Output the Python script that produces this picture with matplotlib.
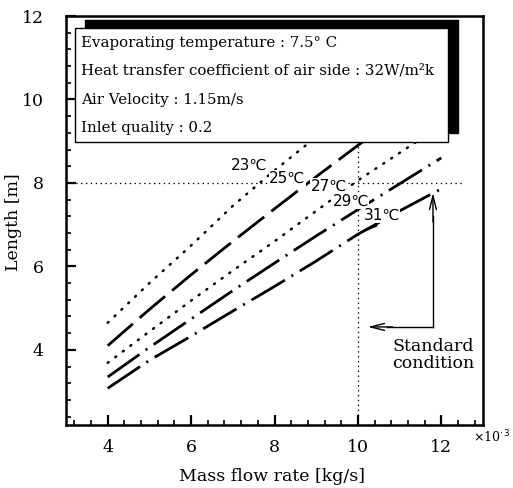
import matplotlib
matplotlib.use("Agg")
import matplotlib.pyplot as plt
from matplotlib.patches import Rectangle
from matplotlib.ticker import MultipleLocator

# --- DATA ---
mass_flow = [4, 5, 6, 7, 8, 9, 10, 11, 12]          # x 10^-3 kg/s
len_23 = [4.65, 5.60, 6.50, 7.45, 8.30, 9.10, 9.90, 10.65, 11.40]
len_25 = [4.10, 4.97, 5.80, 6.60, 7.38, 8.15, 8.90, 9.63, 10.35]
len_27 = [3.69, 4.44, 5.18, 5.90, 6.60, 7.33, 8.06, 8.72, 9.38]
len_29 = [3.35, 4.06, 4.74, 5.42, 6.08, 6.73, 7.36, 7.98, 8.60]
len_31 = [3.08, 3.75, 4.33, 4.93, 5.52, 6.13, 6.77, 7.33, 7.86]
curve_labels = ["23\u2103", "25\u2103", "27\u2103", "29\u2103", "31\u2103"]
label_pos = [(7.40, 8.43), (8.31, 8.12), (9.30, 7.93), (9.83, 7.57), (10.58, 7.23)]
std_flow = 10.0
std_length = 8.0
info_lines = [
    "Evaporating temperature : 7.5\u00b0 C",
    "Heat transfer coefficient of air side : 32W/m\u00b2k",
    "Air Velocity : 1.15m/s",
    "Inlet quality : 0.2",
]

plt.rcParams['lines.scale_dashes'] = False
SERIF = ['DejaVu Serif']

fig = plt.figure(figsize=(5.13, 4.88), dpi=100)
ax = fig.add_axes([0.1287, 0.1291, 0.8128, 0.8381])

# curves
ax.plot(mass_flow, len_23, color='black', lw=1.8, dashes=(0.8, 6.0), dash_capstyle='round')
ax.plot(mass_flow, len_25, color='black', lw=2.0, dashes=(24, 6.5))
ax.plot(mass_flow, len_27, color='black', lw=1.8, dashes=(0.8, 6.0), dash_capstyle='round')
ax.plot(mass_flow, len_29, color='black', lw=2.0, dashes=(28, 5.5, 1.5, 5.5))
ax.plot(mass_flow, len_31, color='black', lw=2.0, dashes=(28, 5.5, 1.5, 5.5))

for txt, (lx, ly) in zip(curve_labels, label_pos):
    ax.text(lx, ly, txt, ha='center', va='center', fontsize=11,
            family=['DejaVu Sans'], color='black',
            bbox=dict(facecolor='white', edgecolor='none', pad=0.1))
# leader for 31C label
ax.plot([10.05, 10.45, 10.45], [6.80, 6.97, 7.08], color='black', lw=1.0)

# standard condition reference lines
ax.plot([3.0, 12.5], [std_length, std_length], color='black', lw=0.9, dashes=(1, 2.5))
ax.plot([std_flow, std_flow], [2.2, 9.0], color='black', lw=0.9, dashes=(1, 2.5))

# arrows to standard condition
corner = (11.8, 4.55)
ax.plot([corner[0], corner[0]], [corner[1], 7.2], color='black', lw=1.0)
ax.annotate("", xy=(11.8, 7.83), xytext=(11.8, 7.0),
            arrowprops=dict(arrowstyle='->,head_length=1.0,head_width=0.25', lw=1.0, color='black'))
ax.plot([corner[0], 10.7], [corner[1], corner[1]], color='black', lw=1.0)
ax.annotate("", xy=(10.17, 4.55), xytext=(10.9, 4.55),
            arrowprops=dict(arrowstyle='->,head_length=1.0,head_width=0.25', lw=1.0, color='black'))
ax.text(11.8, 3.87, "Standard\ncondition", ha='center', va='center',
        fontsize=12.5, family=SERIF, linespacing=1.0)

# info box with shadow
ax.add_patch(Rectangle((0.0456, 0.714), 0.894, 0.276, transform=ax.transAxes,
                       facecolor='black', edgecolor='black', zorder=5))
ax.add_patch(Rectangle((0.0216, 0.692), 0.894, 0.279, transform=ax.transAxes,
                       facecolor='white', edgecolor='black', lw=1.0, zorder=6))
for i, line in enumerate(info_lines):
    ax.text(0.036, [0.934, 0.866, 0.795, 0.726][i], line, transform=ax.transAxes,
            fontsize=10.8, family=SERIF, va='center', ha='left', zorder=7)

ax.set_xlim(3.0, 13.0)
ax.set_ylim(2.2, 12.0)
ax.set_xticks([4, 6, 8, 10, 12])
ax.set_yticks([4, 6, 8, 10, 12])
ax.xaxis.set_minor_locator(MultipleLocator(0.4))
ax.yaxis.set_minor_locator(MultipleLocator(0.4))
ax.tick_params(which='major', direction='in', length=7, width=1.6, labelsize=12.5)
ax.tick_params(axis='x', which='major', pad=10)
ax.tick_params(axis='y', which='major', pad=16)
ax.tick_params(which='minor', direction='in', length=3.5, width=1.2)
for lab in ax.get_xticklabels() + ax.get_yticklabels():
    lab.set_family(SERIF)
for s in ax.spines.values():
    s.set_linewidth(1.8)

ax.set_xlabel("Mass flow rate [kg/s]", fontsize=12.5, family=SERIF)
ax.set_ylabel("Length [m]", fontsize=12.5, family=SERIF)
ax.xaxis.set_label_coords(0.495, -0.105)
ax.yaxis.set_label_coords(-0.105, 0.495)
fig.text(0.995, 0.105, r"$\times$10$^{\cdot\,3}$", fontsize=9, family=SERIF, ha='right', va='center')

fig.savefig("out.png", dpi=100)
